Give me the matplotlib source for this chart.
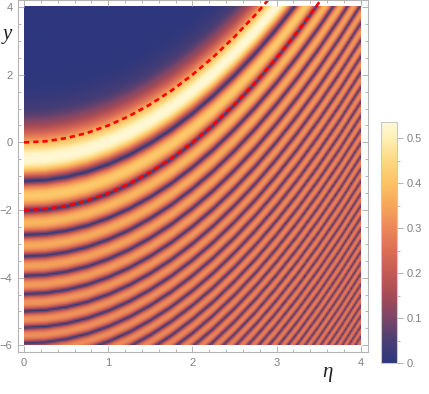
import numpy as np
import matplotlib
matplotlib.use('Agg')
import matplotlib.pyplot as plt
from matplotlib.colors import LinearSegmentedColormap
from matplotlib.ticker import MultipleLocator

plt.rcParams['font.family'] = ['Liberation Sans', 'DejaVu Sans']

# ridge shape
curve_eta = [0, 0.25, 0.5, 0.75, 1, 1.25, 1.5, 1.75, 2, 2.25, 2.5, 2.75, 3, 3.25, 3.5, 3.75, 4]
curve_y = [0, 0.03, 0.125, 0.28, 0.5, 0.78, 1.125, 1.53, 2, 2.53, 3.125, 3.78, 4.5, 5.28, 6.125, 7.03, 8]
lower_y = [-2, -1.97, -1.875, -1.72, -1.5, -1.22, -0.875, -0.47, 0, 0.53, 1.125, 1.78, 2.5, 3.28, 4.125, 5.03, 6]

# dark lines, measured downwards from the ridge curve
dark_s = [-1.169, -2.044, -2.760, -3.393, -3.972, -4.511, -5.020, -5.504, -5.968, -6.414, -6.846,
          -7.264, -7.670, -8.066, -8.453, -8.831, -9.201, -9.563, -9.919, -10.269, -10.612,
          -10.951, -11.284, -11.612, -11.936, -12.255, -12.571, -12.882, -13.190, -13.494,
          -13.795, -14.093]
# colour value at the crest between two dark lines
peak_val = [0.419, 0.385, 0.365, 0.350, 0.340, 0.332, 0.325, 0.320, 0.315, 0.311, 0.308, 0.305,
            0.302, 0.300, 0.298, 0.296, 0.294, 0.292, 0.290, 0.288, 0.286, 0.285, 0.284, 0.283,
            0.282, 0.281, 0.280, 0.279, 0.278, 0.277, 0.276]
lobe_t = [0, 0.08, 0.2, 0.35, 0.5, 0.65, 0.8, 0.92, 1]
lobe_v = [0, 0.32, 0.68, 0.92, 1, 0.92, 0.68, 0.32, 0]
# main bright band and the fade into the dark corner
top_s = [-1.169, -1.1, -1.0, -0.875, -0.75, -0.625, -0.51, -0.375, -0.25, -0.125, 0, 0.125, 0.25,
         0.375, 0.5, 0.75, 1, 1.5, 2, 3]
top_v = [0, 0.1, 0.227, 0.36, 0.464, 0.52, 0.536, 0.52, 0.475, 0.42, 0.355, 0.29, 0.232, 0.18,
         0.135, 0.072, 0.035, 0.0066, 0.001, 0]

cbar_ticks = [0, 0.1, 0.2, 0.3, 0.4, 0.5]
cbar_labels = ['0.', '0.1', '0.2', '0.3', '0.4', '0.5']
cmap_val = [0, 0.05, 0.1, 0.15, 0.2, 0.25, 0.3, 0.35, 0.4, 0.45, 0.5, 0.535]
cmap_rgb = [(45, 55, 125), (75, 62, 115), (125, 70, 105), (165, 75, 85), (195, 90, 85), (220, 110, 85),
            (235, 135, 90), (245, 165, 90), (252, 195, 100), (253, 215, 130), (255, 240, 180), (255, 248, 215)]

# build lookup table from the lists above
prof_s = []
prof_v = []
for i in range(len(peak_val) - 1, -1, -1):
    a, b = dark_s[i + 1], dark_s[i]
    for t, v in zip(lobe_t[:-1], lobe_v[:-1]):
        prof_s.append(a + (b - a) * t)
        prof_v.append(peak_val[i] * v)
prof_s += top_s
prof_v += top_v

eta = np.linspace(0, 4, 230)
y = np.linspace(-6, 4, 230)
E, Y = np.meshgrid(eta, y)
Z = np.interp(Y - np.interp(E, curve_eta, curve_y), prof_s, prof_v)

vmax = cmap_val[-1]
cols = [(v / vmax, tuple(c / 255 for c in rgb)) for v, rgb in zip(cmap_val, cmap_rgb)]
cmap = LinearSegmentedColormap.from_list('sunset', cols, N=512)

W, H = 429, 394
grey = '#b4b4b4'
txt = '#808080'
fig = plt.figure(figsize=(W / 100, H / 100), dpi=100)
ax = fig.add_axes([18 / W, 1 - 352 / H, 350 / W, 352 / H])
im = ax.imshow(Z, origin='lower', extent=[0, 4, -6, 4], aspect='auto', cmap=cmap, vmin=0, vmax=vmax,
               interpolation='bilinear')
ax.plot(curve_eta, curve_y, color='red', lw=1.9, dashes=(2, 1.5))
ax.plot(curve_eta, lower_y, color='red', lw=1.9, dashes=(2, 1.5))
ax.set_xlim(-0.071, 4.085)
ax.set_ylim(-6.2, 4.21)

ax.xaxis.set_major_locator(MultipleLocator(1))
ax.xaxis.set_minor_locator(MultipleLocator(0.2))
ax.yaxis.set_major_locator(MultipleLocator(2))
ax.yaxis.set_minor_locator(MultipleLocator(0.5))
ax.tick_params(which='major', direction='in', length=4.5, width=0.7, color=grey, top=True, right=True,
               labelcolor=txt, labelsize=8, pad=4)
ax.tick_params(which='minor', direction='in', length=2.5, width=0.7, color=grey, top=True, right=True)
for sp in ax.spines.values():
    sp.set_color(grey)
    sp.set_linewidth(0.8)

ax.text(-0.20, 3.2, 'y', family='Liberation Serif', style='italic', fontsize=15, color='#222222',
        ha='center', va='center')
ax.text(3.6, -6.8, 'η', family='Liberation Serif', style='italic', fontsize=15, color='#222222',
        ha='center', va='center', clip_on=False)

cax = fig.add_axes([380.5 / W, 1 - 363 / H, 16.5 / W, 240.5 / H])
cb = fig.colorbar(im, cax=cax)
cb.set_ticks(cbar_ticks)
cb.set_ticklabels(cbar_labels)
cb.ax.yaxis.set_minor_locator(MultipleLocator(0.05))
cb.ax.tick_params(which='major', length=4, width=0.7, color=grey, labelcolor=txt, labelsize=8, pad=3)
cb.ax.tick_params(which='minor', length=2, width=0.7, color=grey)
cb.outline.set_edgecolor('#c8c8c8')
cb.outline.set_linewidth(0.8)

fig.savefig('out.png', dpi=100)
